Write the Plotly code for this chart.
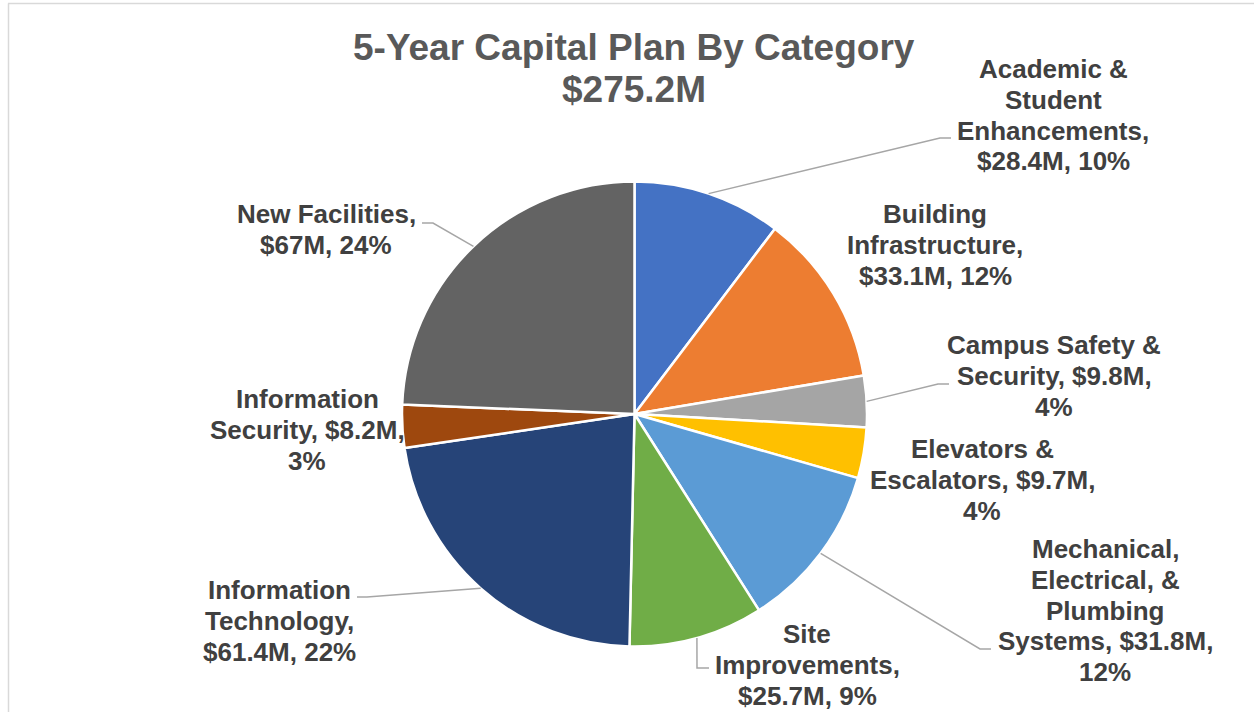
import math
import plotly.graph_objects as go

# data (clockwise from 12 o'clock)
categories = [
    "Academic & Student Enhancements",
    "Building Infrastructure",
    "Campus Safety & Security",
    "Elevators & Escalators",
    "Mechanical, Electrical, & Plumbing Systems",
    "Site Improvements",
    "Information Technology",
    "Information Security",
    "New Facilities",
]
amounts = [28.4, 33.1, 9.8, 9.7, 31.8, 25.7, 61.4, 8.2, 67.0]
percents = [10, 12, 4, 4, 12, 9, 22, 3, 24]
amount_text = ["$28.4M", "$33.1M", "$9.8M", "$9.7M", "$31.8M", "$25.7M", "$61.4M", "$8.2M", "$67M"]
colors = ["#4472C4", "#ED7D31", "#A5A5A5", "#FFC000", "#5B9BD5",
          "#70AD47", "#264478", "#9E480E", "#636363"]

# how each data label wraps in the picture
label_lines = [
    ["Academic &", "Student", "Enhancements,", "{a}, {p}%"],
    ["Building", "Infrastructure,", "{a}, {p}%"],
    ["Campus Safety &", "Security, {a},", "{p}%"],
    ["Elevators &", "Escalators, {a},", "{p}%"],
    ["Mechanical,", "Electrical, &", "Plumbing", "Systems, {a},", "{p}%"],
    ["Site", "Improvements,", "{a}, {p}%"],
    ["Information", "Technology,", "{a}, {p}%"],
    ["Information", "Security, {a},", "{p}%"],
    ["New Facilities,", "{a}, {p}%"],
]

W, H = 1254, 712
cx, cy, R = 634.5, 414.0, 232.5

# label placement (pixels): centre x, first line y
label_pos = [(1053, 69), (935, 214), (1054, 345), (982, 449),
             (1105, 549), (807, 634), (279, 590), (307, 399), (326, 214)]
LINE_H = 30.8
# leader lines: elbow and end point
leaders = {
    0: [(940, 138), (951, 138)],
    2: [(938, 384), (949, 384)],
    4: [(980, 649), (991, 649)],
    5: [(697, 668), (709, 668)],
    6: [(367, 597), (357, 597)],
    8: [(433, 223), (422, 223)],
}

def px(x):
    return x / W

def py(y):
    return 1 - y / H

fig = go.Figure()
fig.add_trace(go.Pie(
    labels=categories,
    values=amounts,
    sort=False,
    direction="clockwise",
    rotation=0,
    marker=dict(colors=colors, line=dict(color="white", width=2.5)),
    textinfo="none",
    hovertemplate="%{label}: $%{value}M<extra></extra>",
    domain=dict(x=[px(cx - R), px(cx + R)], y=[py(cy + R), py(cy - R)]),
    showlegend=False,
))

# thin chart-area border (top and left edges visible)
shapes = [
    dict(type="line", xref="paper", yref="paper", x0=px(8), x1=1, y0=py(3.5), y1=py(3.5),
         line=dict(color="#D9D9D9", width=1.5)),
    dict(type="line", xref="paper", yref="paper", x0=px(8.5), x1=px(8.5), y0=0, y1=py(3.5),
         line=dict(color="#D9D9D9", width=1.5)),
]

# leader lines start at the outer edge of each slice's mid angle
total = sum(amounts)
cum = 0.0
for i, v in enumerate(amounts):
    mid = (cum + v / 2) / total * 2 * math.pi
    cum += v
    if i in leaders:
        sx = cx + R * math.sin(mid)
        sy = cy - R * math.cos(mid)
        pts = [(sx, sy)] + leaders[i]
        path = "M " + " L ".join(f"{px(x)},{py(y)}" for x, y in pts)
        shapes.append(dict(type="path", xref="paper", yref="paper", path=path,
                           line=dict(color="#A6A6A6", width=1.5)))

annotations = []
for i, lines in enumerate(label_lines):
    x0, y0 = label_pos[i]
    for k, ln in enumerate(lines):
        t = ln.format(a=amount_text[i], p=percents[i])
        annotations.append(dict(
            x=px(x0), y=py(y0 + k * LINE_H), xref="paper", yref="paper",
            text=f"<b>{t}</b>", showarrow=False, xanchor="center", yanchor="middle",
            font=dict(family="Arial, Liberation Sans", size=26, color="#404040"),
        ))

title_lines = ["5-Year Capital Plan By Category", "$275.2M"]
for k, t in enumerate(title_lines):
    annotations.append(dict(
        x=px(634), y=py(47 + k * 42), xref="paper", yref="paper",
        text=f"<b>{t}</b>", showarrow=False, xanchor="center", yanchor="middle",
        font=dict(family="Arial, Liberation Sans", size=37, color="#595959"),
    ))

fig.update_layout(
    width=W, height=H,
    margin=dict(l=0, r=0, t=0, b=0),
    paper_bgcolor="white",
    plot_bgcolor="white",
    shapes=shapes,
    annotations=annotations,
)

# drop the page's default body margin so the figure sits at the window corner
fig.write_html("out.html", config={"displayModeBar": False},
               post_script="document.body.style.margin='0';")
